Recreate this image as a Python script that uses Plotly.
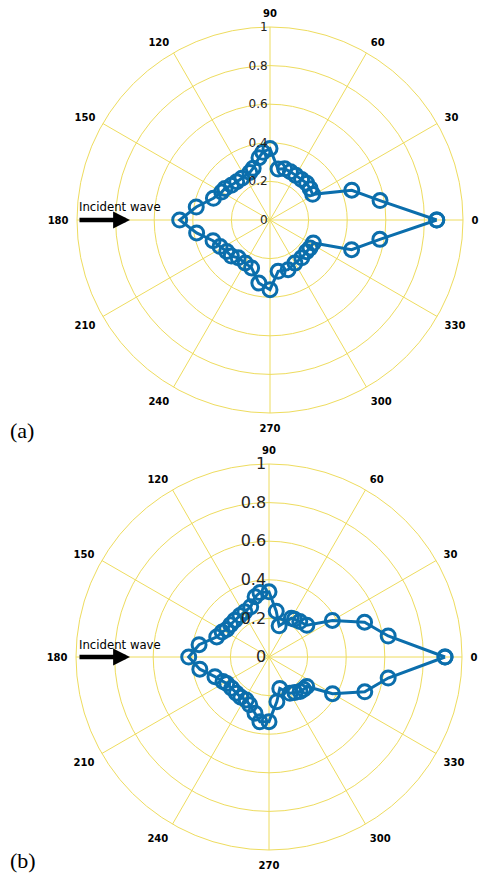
import plotly.graph_objects as go

# ---- data (a) ----
theta_a = [0, 10, 20, 31, 38, 45, 52, 60, 67, 74, 81, 90, 96, 100, 108, 113, 124, 131,
           138, 145, 150, 159, 170, 180, 190, 200, 208, 216, 223, 230, 240, 249, 260,
           270, 279, 290, 300, 310, 319, 325, 332, 340, 350, 360]
r_a = [0.864, 0.579, 0.451, 0.258, 0.264, 0.269, 0.266, 0.267, 0.271, 0.276, 0.267, 0.370,
       0.353, 0.328, 0.282, 0.268, 0.261, 0.263, 0.269, 0.285, 0.289, 0.314, 0.388, 0.468,
       0.386, 0.314, 0.293, 0.277, 0.274, 0.256, 0.257, 0.266, 0.332, 0.361, 0.269, 0.274,
       0.258, 0.256, 0.250, 0.253, 0.254, 0.450, 0.578, 0.864]

# ---- data (b) ----
theta_b = [0, 10, 20, 30, 40, 49, 56, 60, 72, 81, 90, 98, 103, 110, 118, 125, 133, 140,
           147, 152, 159, 170, 180, 190, 200, 208, 212, 220, 228, 235, 242, 248, 256, 262,
           270, 280, 289, 300, 306, 312, 317, 322, 330, 340, 350, 360]
r_b = [0.912, 0.627, 0.527, 0.379, 0.256, 0.243, 0.236, 0.232, 0.170, 0.240, 0.338, 0.337,
       0.320, 0.277, 0.266, 0.262, 0.260, 0.260, 0.262, 0.275, 0.290, 0.368, 0.416, 0.364,
       0.298, 0.270, 0.258, 0.252, 0.252, 0.254, 0.252, 0.267, 0.300, 0.339, 0.335, 0.235,
       0.172, 0.217, 0.228, 0.241, 0.245, 0.248, 0.380, 0.528, 0.627, 0.912]

radial_ticks = [0, 0.2, 0.4, 0.6, 0.8, 1]
radial_labels = ["0", "0.2", "0.4", "0.6", "0.8", "1"]
angle_ticks = [0, 30, 60, 90, 120, 150, 180, 210, 240, 270, 300, 330]
angle_labels = [str(a) for a in angle_ticks]

BLUE = "#0B6EAC"
GRID = "#EEDC5E"

fig = go.Figure()
for th, rr, sp in [(theta_a, r_a, "polar"), (theta_b, r_b, "polar2")]:
    fig.add_trace(go.Scatterpolar(
        r=rr, theta=th, mode="lines+markers", subplot=sp,
        line=dict(color=BLUE, width=3),
        marker=dict(symbol="circle-open", size=14, color=BLUE, line=dict(color=BLUE, width=3)),
        showlegend=False))


def polar_layout(xd, yd, rfont):
    return dict(
        domain=dict(x=xd, y=yd),
        bgcolor="white",
        radialaxis=dict(range=[0, 1], tickvals=radial_ticks, ticktext=radial_labels,
                        angle=90, tickangle=90, side="counterclockwise",
                        showline=False, gridcolor=GRID, gridwidth=1, ticks="",
                        tickfont=dict(family="DejaVu Sans", size=rfont, color="#222")),
        angularaxis=dict(tickvals=angle_ticks, ticktext=angle_labels, direction="counterclockwise",
                         rotation=0, gridcolor=GRID, gridwidth=1, linecolor=GRID, linewidth=1,
                         showline=True, ticks="outside", ticklen=6, tickcolor="rgba(0,0,0,0)",
                         tickfont=dict(family="DejaVu Sans", size=10, color="black", weight="bold")),
    )


fig.update_layout(
    width=479, height=875, margin=dict(l=0, r=0, t=0, b=0),
    paper_bgcolor="white", plot_bgcolor="white",
    polar=polar_layout([77 / 479, 463 / 479], [1 - 413 / 875, 1 - 27 / 875], 12),
    polar2=polar_layout([76 / 479, 462 / 479], [1 - 850 / 875, 1 - 464 / 875], 16),
)

ann = []
for ycen, lab, ylab in [(220, "(a)", 430), (657, "(b)", 860)]:
    ann.append(dict(xref="paper", yref="paper", x=130 / 479, y=1 - ycen / 875,
                    ax=-52, ay=0, axref="pixel", ayref="pixel", showarrow=True,
                    arrowhead=2, arrowsize=0.75, arrowwidth=4.5, arrowcolor="black", text=""))
    ann.append(dict(xref="paper", yref="paper", x=77 / 479, y=1 - (ycen - 13) / 875,
                    xanchor="left", yanchor="middle", showarrow=False, text="Incident wave",
                    font=dict(family="DejaVu Sans Condensed", size=13, color="black")))
    ann.append(dict(xref="paper", yref="paper", x=8 / 479, y=1 - ylab / 875,
                    xanchor="left", yanchor="middle", showarrow=False, text=lab,
                    font=dict(family="Liberation Serif", size=22, color="black")))
fig.update_layout(annotations=ann)

fig.write_html("out.html")
